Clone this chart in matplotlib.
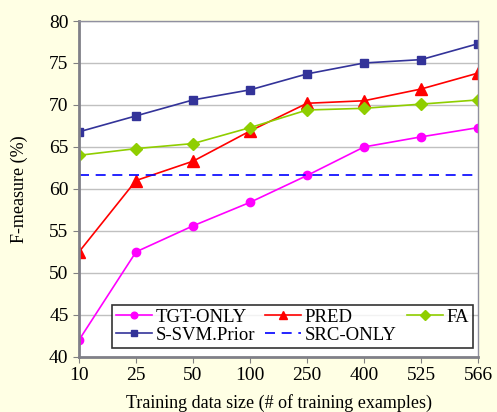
import matplotlib.pyplot as plt

sizes = ['10', '25', '50', '100', '250', '400', '525', '566']
tgt_only = [42.0, 52.5, 55.6, 58.4, 61.6, 65.0, 66.2, 67.3]
pred = [52.5, 61.0, 63.3, 66.9, 70.2, 70.5, 71.9, 73.8]
fa = [64.0, 64.8, 65.4, 67.3, 69.4, 69.6, 70.1, 70.6]
ssvm_prior = [66.8, 68.7, 70.6, 71.8, 73.7, 75.0, 75.4, 77.3]
src_only = 61.6

plt.rcParams['font.family'] = 'Liberation Serif'
bg = '#ffffe4'

fig = plt.figure(figsize=(4.97, 4.12), dpi=100, facecolor=bg)
ax = fig.add_axes([0.159, 0.134, 0.803, 0.815])

x = list(range(len(sizes)))
l_tgt, = ax.plot(x, tgt_only, color='#ff00ff', marker='o', markersize=6, lw=1.2, label='TGT-ONLY')
l_pred, = ax.plot(x, pred, color='#ff0000', marker='^', markersize=8, lw=1.2, label='PRED')
l_fa, = ax.plot(x, fa, color='#8fce00', marker='D', markersize=6, lw=1.2, label='FA')
l_ssvm, = ax.plot(x, ssvm_prior, color='#333399', marker='s', markersize=6, lw=1.2, label='S-SVM.Prior')
l_src = ax.axhline(src_only, color='#0000ff', ls=(0, (6, 4)), lw=1.2, label='SRC-ONLY')

ax.set_xlim(0, len(sizes) - 1)
ax.set_ylim(40, 80)
ax.set_xticks(x)
ax.set_xticklabels(sizes)
ax.set_yticks(range(40, 81, 5))
ax.tick_params(labelsize=14, colors='#808080', labelcolor='black', direction='out', length=4)
ax.yaxis.grid(True, color='#c0c0c0', lw=1)
ax.set_axisbelow(True)
for s in ['top', 'right']:
    ax.spines[s].set_color('#9090a0')
    ax.spines[s].set_linewidth(1)
for s in ['left', 'bottom']:
    ax.spines[s].set_color('#808088')
    ax.spines[s].set_linewidth(2)

ax.set_xlabel('Training data size (# of training examples)', fontsize=13, labelpad=7)
ax.set_ylabel('F-measure (%)', fontsize=13, labelpad=15)

# legend fills by column, so order to read row-wise like the original
handles = [l_tgt, l_ssvm, l_pred, l_src, l_fa]
leg = ax.legend(handles=handles, labels=[h.get_label() for h in handles], ncol=3,
                loc='lower left', bbox_to_anchor=(0.083, 0.027, 0.904, 0.131),
                mode='expand', fontsize=13.5, frameon=True, fancybox=False,
                edgecolor='black', handlelength=1.9, handletextpad=0.2, markerscale=0.8,
                borderpad=0.2, labelspacing=0.05, columnspacing=0.5, borderaxespad=0)
leg.get_frame().set_linewidth(1.2)

fig.savefig('out.png', dpi=100, facecolor=bg)
